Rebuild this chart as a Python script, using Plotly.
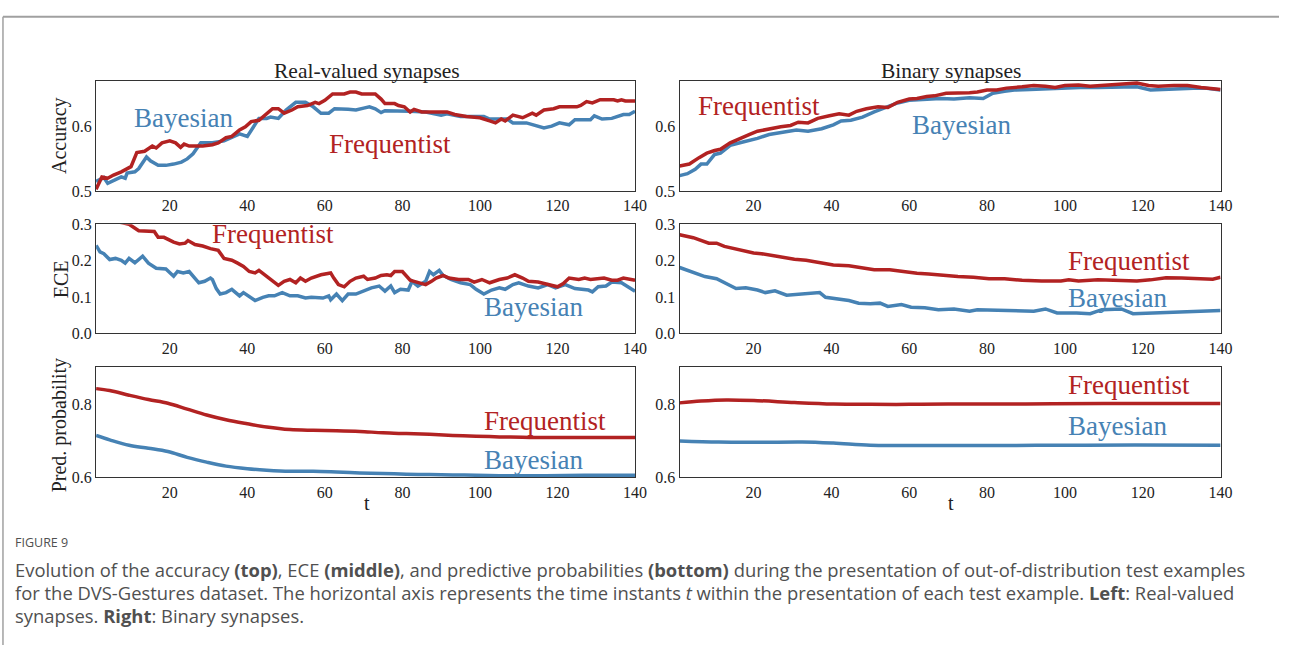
import plotly.graph_objects as go

W, H = 1291, 654

BLUE = "#4682B4"
RED = "#B22222"
SERIF = "Liberation Serif"

# ---------------- data ----------------
# Real-valued synapses, accuracy
t_acc_rb = [1, 3, 4, 6, 7.5, 8.5, 9, 11, 12, 14, 15, 17, 19, 21, 23, 24.5, 26, 28, 31, 34, 36, 38, 40, 41.5,
            43, 45, 46, 48, 50, 52.5, 55, 57, 59, 61, 62.5, 66, 68, 70, 71.5, 73, 74.5, 75.5, 80.5, 82, 86, 90,
            91.5, 95, 101, 102.5, 107, 108.5, 112, 114.5, 116.5, 118.5, 120.5, 123, 124.5, 128.5, 129.5, 131.5,
            134, 137, 138.5, 140]
acc_rb = [0.515, 0.521, 0.512, 0.517, 0.522, 0.52, 0.528, 0.53, 0.535, 0.553, 0.547, 0.54, 0.54, 0.542, 0.545,
          0.55, 0.558, 0.575, 0.575, 0.578, 0.583, 0.589, 0.585, 0.6, 0.613, 0.613, 0.615, 0.613, 0.626, 0.638,
          0.638, 0.631, 0.621, 0.621, 0.628, 0.627, 0.626, 0.629, 0.631, 0.628, 0.622, 0.625, 0.625, 0.624, 0.623,
          0.618, 0.62, 0.616, 0.616, 0.612, 0.612, 0.606, 0.606, 0.601, 0.598, 0.601, 0.606, 0.603, 0.611, 0.611,
          0.617, 0.612, 0.613, 0.619, 0.619, 0.624]
t_acc_rf = [1, 2.5, 4, 5.5, 7.5, 9, 10, 11.5, 13.5, 15.5, 16.5, 18, 20, 21.5, 22.8, 23.7, 25, 28.5, 31, 32.5,
            34.5, 36, 38, 39.5, 41, 43, 44.5, 46.5, 48, 49.5, 51.5, 53, 55.5, 57.5, 58.5, 60, 62, 65, 66.5, 68,
            69.5, 73, 74.5, 75.5, 78, 79, 80.5, 82, 83, 85, 91.5, 93.5, 96.5, 100, 102.5, 104, 105.5, 106.5,
            108.5, 111, 113.5, 114.5, 116.5, 119, 120.5, 125, 126, 127.5, 129, 131, 134.5, 135.5, 136.5, 137.5, 140]
acc_rf = [0.503, 0.522, 0.52, 0.525, 0.53, 0.535, 0.538, 0.56, 0.562, 0.57, 0.567, 0.575, 0.578, 0.575, 0.568,
          0.573, 0.57, 0.57, 0.572, 0.575, 0.583, 0.585, 0.595, 0.6, 0.608, 0.61, 0.618, 0.628, 0.628, 0.621,
          0.626, 0.631, 0.633, 0.638, 0.636, 0.641, 0.651, 0.651, 0.654, 0.654, 0.651, 0.651, 0.643, 0.636, 0.636,
          0.633, 0.631, 0.623, 0.627, 0.623, 0.623, 0.619, 0.616, 0.614, 0.609, 0.606, 0.612, 0.609, 0.618, 0.614,
          0.621, 0.618, 0.626, 0.628, 0.631, 0.631, 0.633, 0.639, 0.637, 0.642, 0.642, 0.64, 0.642, 0.64, 0.64]

# Binary synapses, accuracy
t_acc_bb = [1, 3, 5, 6.5, 8, 10, 11.5, 14, 17, 21, 24, 28, 31, 34, 37.5, 40.5, 42.5, 45, 48, 51, 54, 57, 60,
            64, 68, 71.5, 75.5, 79, 81.5, 84.5, 87, 91, 95, 99, 104, 108.5, 113.5, 118.5, 122, 125, 129, 133,
            136, 140]
acc_bb = [0.524, 0.527, 0.534, 0.542, 0.542, 0.557, 0.559, 0.571, 0.576, 0.582, 0.588, 0.592, 0.595, 0.593,
          0.597, 0.603, 0.609, 0.61, 0.615, 0.623, 0.63, 0.637, 0.641, 0.643, 0.644, 0.643, 0.645, 0.644, 0.652,
          0.655, 0.657, 0.658, 0.659, 0.661, 0.661, 0.661, 0.662, 0.662, 0.657, 0.658, 0.659, 0.66, 0.66, 0.657]
t_acc_bf = [1, 3.5, 6, 8, 10, 11.5, 14, 16.5, 19, 21, 24, 27, 29.5, 31.5, 34, 36.5, 39.5, 42, 44.5, 46.5, 49,
            52, 54.5, 57, 60, 62, 64.5, 66.5, 69.5, 72.5, 75.5, 77.5, 80, 82.5, 85, 89, 92, 95, 97.5, 100, 103.5,
            106.5, 110.5, 114.5, 118.5, 121.5, 124, 128, 131.5, 135, 138, 140]
acc_bf = [0.539, 0.542, 0.552, 0.559, 0.563, 0.565, 0.575, 0.582, 0.588, 0.593, 0.597, 0.6, 0.602, 0.607, 0.606,
          0.613, 0.617, 0.62, 0.618, 0.624, 0.628, 0.631, 0.63, 0.638, 0.643, 0.644, 0.647, 0.648, 0.652, 0.652,
          0.653, 0.654, 0.657, 0.657, 0.66, 0.662, 0.664, 0.663, 0.661, 0.664, 0.665, 0.663, 0.665, 0.666, 0.668,
          0.664, 0.663, 0.664, 0.664, 0.661, 0.659, 0.658]

# Real-valued synapses, ECE
t_ece_rb = [1, 2, 3, 4.5, 6, 7.5, 8.5, 9.5, 11, 13, 14.5, 16.5, 19, 21, 22, 23.5, 25, 26.5, 27.5, 29, 30.5, 31,
            32, 33, 34.5, 36, 38, 39, 41, 42, 44, 45.5, 47, 49, 51, 53, 55, 56.5, 59.5, 61, 61.5, 63, 64.5, 66,
            68, 69.5, 72, 74, 75.5, 77, 78, 79.5, 81.5, 82.5, 84, 86, 87, 88, 89.5, 90.5, 92.5, 95, 97.5, 99,
            101, 103, 105, 106.5, 108.5, 110, 112.5, 115, 117.5, 119.5, 122, 124.5, 128, 129, 130.5, 132.5, 134,
            136.5, 138, 140]
ece_rb = [0.242, 0.224, 0.219, 0.203, 0.206, 0.201, 0.193, 0.206, 0.194, 0.212, 0.193, 0.179, 0.177, 0.157,
          0.17, 0.166, 0.17, 0.152, 0.139, 0.143, 0.152, 0.148, 0.123, 0.108, 0.112, 0.121, 0.103, 0.112, 0.099,
          0.09, 0.099, 0.103, 0.103, 0.112, 0.103, 0.103, 0.097, 0.099, 0.097, 0.103, 0.092, 0.108, 0.09, 0.108,
          0.108, 0.115, 0.125, 0.13, 0.116, 0.13, 0.112, 0.121, 0.119, 0.143, 0.13, 0.143, 0.17, 0.161, 0.173,
          0.159, 0.148, 0.139, 0.134, 0.121, 0.108, 0.119, 0.125, 0.121, 0.134, 0.139, 0.13, 0.125, 0.134, 0.125,
          0.134, 0.123, 0.119, 0.114, 0.128, 0.13, 0.141, 0.139, 0.13, 0.116]
t_ece_rf = [1, 9.5, 12, 14.5, 16, 17, 18.5, 21, 22.5, 24, 24.7, 26.5, 28.5, 30.5, 32.5, 34, 36, 37.5, 39, 40.5,
            42, 43, 44.5, 46, 48, 49.5, 51, 52.5, 53.7, 55, 56.5, 59, 61.5, 62.3, 63.5, 65, 66.5, 68, 70, 71, 73,
            74.5, 76, 77, 78, 80, 81, 82, 83, 84.5, 86, 87.5, 88.7, 90.5, 92, 94.5, 97, 98.5, 100.5, 102.5, 105,
            107, 109, 111, 112.5, 115, 117.5, 120, 121.5, 123, 125.5, 127, 128.5, 132, 134, 135.5, 137, 140]
ece_rf = [0.32, 0.3, 0.282, 0.28, 0.28, 0.264, 0.264, 0.251, 0.246, 0.248, 0.255, 0.244, 0.24, 0.233, 0.228,
          0.206, 0.201, 0.193, 0.184, 0.17, 0.166, 0.173, 0.161, 0.148, 0.132, 0.143, 0.148, 0.139, 0.152, 0.143,
          0.152, 0.161, 0.166, 0.152, 0.134, 0.128, 0.143, 0.152, 0.157, 0.148, 0.152, 0.159, 0.161, 0.159, 0.17,
          0.17, 0.157, 0.146, 0.143, 0.139, 0.134, 0.143, 0.152, 0.159, 0.152, 0.148, 0.148, 0.141, 0.148, 0.139,
          0.148, 0.152, 0.161, 0.152, 0.143, 0.141, 0.134, 0.128, 0.137, 0.152, 0.148, 0.152, 0.148, 0.152,
          0.146, 0.146, 0.152, 0.146]

# Binary synapses, ECE
t_ece_bb = [1, 4.5, 7.5, 10.5, 14, 15.5, 18, 21, 23, 25.5, 28.5, 31.5, 34.5, 37, 38.5, 41.5, 44.5, 47, 50, 52.5,
            54.5, 58, 60.5, 64, 67.5, 71.5, 75.5, 77.5, 82.5, 87, 92, 95, 98, 103, 106.5, 109.5, 114.5, 117.5,
            122, 128, 134, 140]
ece_bb = [0.181, 0.168, 0.156, 0.15, 0.132, 0.123, 0.125, 0.119, 0.112, 0.117, 0.105, 0.107, 0.11, 0.112, 0.099,
          0.095, 0.09, 0.083, 0.081, 0.083, 0.074, 0.079, 0.072, 0.07, 0.065, 0.067, 0.061, 0.065, 0.063, 0.061,
          0.061, 0.067, 0.056, 0.056, 0.054, 0.065, 0.067, 0.054, 0.056, 0.058, 0.062, 0.063]
t_ece_bf = [1, 4.5, 8.5, 10.5, 12.5, 15, 17, 20, 22, 25, 28, 30.5, 33.5, 36.5, 40.5, 44.5, 48, 51, 55, 58, 62,
            65, 68.5, 72.5, 76.5, 80.5, 84.5, 89, 94, 99, 101, 103.5, 108.5, 113.5, 118.5, 122, 126, 130, 134,
            138, 140]
ece_bf = [0.271, 0.263, 0.248, 0.248, 0.239, 0.233, 0.226, 0.221, 0.219, 0.213, 0.208, 0.204, 0.201, 0.195,
          0.188, 0.186, 0.179, 0.175, 0.175, 0.17, 0.165, 0.163, 0.159, 0.156, 0.154, 0.15, 0.15, 0.146, 0.144,
          0.144, 0.147, 0.144, 0.147, 0.146, 0.144, 0.147, 0.153, 0.152, 0.15, 0.149, 0.154]

# Real-valued synapses, predictive probability
t_pp_r = [1, 4.5, 9.5, 14.5, 19.5, 24.5, 29.5, 34.5, 40, 45, 51, 57, 63, 69, 75, 81, 87, 93, 99, 105, 111, 117,
          127, 140]
pp_rf = [0.843, 0.838, 0.825, 0.813, 0.803, 0.787, 0.771, 0.758, 0.747, 0.738, 0.731, 0.729, 0.728, 0.726,
         0.722, 0.72, 0.718, 0.715, 0.713, 0.711, 0.71, 0.709, 0.709, 0.709]
pp_rb = [0.715, 0.703, 0.688, 0.68, 0.671, 0.655, 0.642, 0.631, 0.624, 0.62, 0.617, 0.617, 0.615, 0.6125,
         0.611, 0.609, 0.608, 0.607, 0.606, 0.605, 0.605, 0.605, 0.606, 0.606]

# Binary synapses, predictive probability
t_pp_b = [1, 6.5, 13, 21, 30.5, 40.5, 50, 60, 70, 90, 110, 128, 140]
pp_bf = [0.804, 0.809, 0.812, 0.81, 0.805, 0.801, 0.8, 0.8, 0.801, 0.801, 0.802, 0.802, 0.802]
t_pp_b2 = [1, 11, 21, 32.5, 40.5, 50, 60, 80, 99, 118, 140]
pp_bb = [0.7, 0.697, 0.696, 0.697, 0.694, 0.688, 0.6875, 0.6875, 0.688, 0.689, 0.688]

x_ticks = [20, 40, 60, 80, 100, 120, 140]
x_range = [1, 140]
y_ranges = {"acc": [0.5, 0.671], "ece": [0.0, 0.3], "pp": [0.6, 0.901]}
y_ticks = {"acc": [0.5, 0.6], "ece": [0.0, 0.1, 0.2, 0.3], "pp": [0.6, 0.8]}

# ---------------- layout geometry (pixels) ----------------
cols = {"L": (97, 641), "R": (686, 1232)}
rows = {"acc": (75, 188), "ece": (222, 334), "pp": (369, 482)}

fig = go.Figure()

panels = [
    ("acc", "L", t_acc_rb, acc_rb, t_acc_rf, acc_rf, False),
    ("acc", "R", t_acc_bb, acc_bb, t_acc_bf, acc_bf, False),
    ("ece", "L", t_ece_rb, ece_rb, t_ece_rf, ece_rf, False),
    ("ece", "R", t_ece_bb, ece_bb, t_ece_bf, ece_bf, False),
    ("pp", "L", t_pp_r, pp_rb, t_pp_r, pp_rf, True),
    ("pp", "R", t_pp_b2, pp_bb, t_pp_b, pp_bf, True),
]

axis_font = dict(family=SERIF, size=16, color="#222")
layout_axes = {}
for i, (row, col, tb, yb, tf, yf, smooth) in enumerate(panels, start=1):
    xa = "x" if i == 1 else f"x{i}"
    ya = "y" if i == 1 else f"y{i}"
    shape = "spline" if smooth else "linear"
    fig.add_trace(go.Scatter(x=tb, y=yb, mode="lines", xaxis=xa, yaxis=ya,
                             line=dict(color=BLUE, width=3.5, shape=shape), showlegend=False))
    fig.add_trace(go.Scatter(x=tf, y=yf, mode="lines", xaxis=xa, yaxis=ya,
                             line=dict(color=RED, width=3.5, shape=shape), showlegend=False))
    x0, x1 = cols[col]
    y0, y1 = rows[row]
    xk = "xaxis" if i == 1 else f"xaxis{i}"
    yk = "yaxis" if i == 1 else f"yaxis{i}"
    layout_axes[xk] = dict(domain=[x0 / W, x1 / W], anchor=ya, range=x_range, tickvals=x_ticks,
                           ticks="", showgrid=False, zeroline=False, showline=True, mirror=True,
                           linecolor="#333", linewidth=1.3, tickfont=axis_font)
    layout_axes[yk] = dict(domain=[1 - y1 / H, 1 - y0 / H], anchor=xa, range=y_ranges[row],
                           tickvals=y_ticks[row], tickformat=".1f", ticks="", showgrid=False,
                           zeroline=False, showline=True, mirror=True, linecolor="#333", linewidth=1.3,
                           tickfont=axis_font)

fig.update_layout(**layout_axes)

ann = []
lab_font = 27
def txt(xref, yref, x, y, s, color):
    ann.append(dict(x=x, y=y, xref=xref, yref=yref, text=s, showarrow=False, xanchor="left",
                    yanchor="middle", font=dict(family=SERIF, size=lab_font, color=color)))

txt("x", "y", 10.3, 0.614, "Bayesian", BLUE)
txt("x", "y", 60.5, 0.573, "Frequentist", RED)
txt("x2", "y2", 5.2, 0.633, "Frequentist", RED)
txt("x2", "y2", 60.3, 0.602, "Bayesian", BLUE)
txt("x3", "y3", 30.3, 0.272, "Frequentist", RED)
txt("x3", "y3", 100.6, 0.071, "Bayesian", BLUE)
txt("x4", "y4", 100.3, 0.2, "Frequentist", RED)
txt("x4", "y4", 100.3, 0.098, "Bayesian", BLUE)
txt("x5", "y5", 100.6, 0.755, "Frequentist", RED)
txt("x5", "y5", 100.6, 0.647, "Bayesian", BLUE)
txt("x6", "y6", 100.3, 0.853, "Frequentist", RED)
txt("x6", "y6", 100.3, 0.742, "Bayesian", BLUE)

def paper(x, y, s, size, color="#222", angle=0, xanchor="center", family=SERIF):
    ann.append(dict(x=x / W, y=1 - y / H, xref="paper", yref="paper", text=s, showarrow=False,
                    xanchor=xanchor, yanchor="middle", textangle=angle,
                    font=dict(family=family, size=size, color=color)))

paper(370, 65, "Real-valued synapses", 21.5)
paper(960, 65, "Binary synapses", 21.5)
paper(60, 131, "Accuracy", 20, angle=-90)
paper(61, 278, "ECE", 20, angle=-90)
paper(60, 428, "Pred. probability", 20, angle=-90)
paper(370, 508, "t", 20)
paper(960, 508, "t", 20)

CAP = "Open Sans"
CAPC = "#505050"
paper(13, 549, "FIGURE 9", 12.5, color=CAPC, xanchor="left", family=CAP)
paper(13, 576, "Evolution of the accuracy <b>(top)</b>, ECE <b>(middle)</b>, and predictive probabilities "
               "<b>(bottom)</b> during the presentation of out-of-distribution test examples",
      18.4, color=CAPC, xanchor="left", family=CAP)
paper(13, 600, "for the DVS-Gestures dataset. The horizontal axis represents the time instants <i>t</i> within "
               "the presentation of each test example. <b>Left</b>: Real-valued",
      18.4, color=CAPC, xanchor="left", family=CAP)
paper(13, 624, "synapses. <b>Right</b>: Binary synapses.", 18.4, color=CAPC, xanchor="left", family=CAP)

shapes = [
    dict(type="line", xref="paper", yref="paper", x0=3 / W, x1=1, y0=1 - 9 / H, y1=1 - 9 / H,
         line=dict(color="#a0a0a0", width=2)),
    dict(type="line", xref="paper", yref="paper", x0=3 / W, x1=3 / W, y0=0, y1=1 - 9 / H,
         line=dict(color="#a0a0a0", width=1.5)),
]

fig.update_layout(width=W, height=H, margin=dict(l=0, r=0, t=0, b=0), paper_bgcolor="white",
                  plot_bgcolor="white", annotations=ann, shapes=shapes, showlegend=False)

fig.write_html("out.html")
